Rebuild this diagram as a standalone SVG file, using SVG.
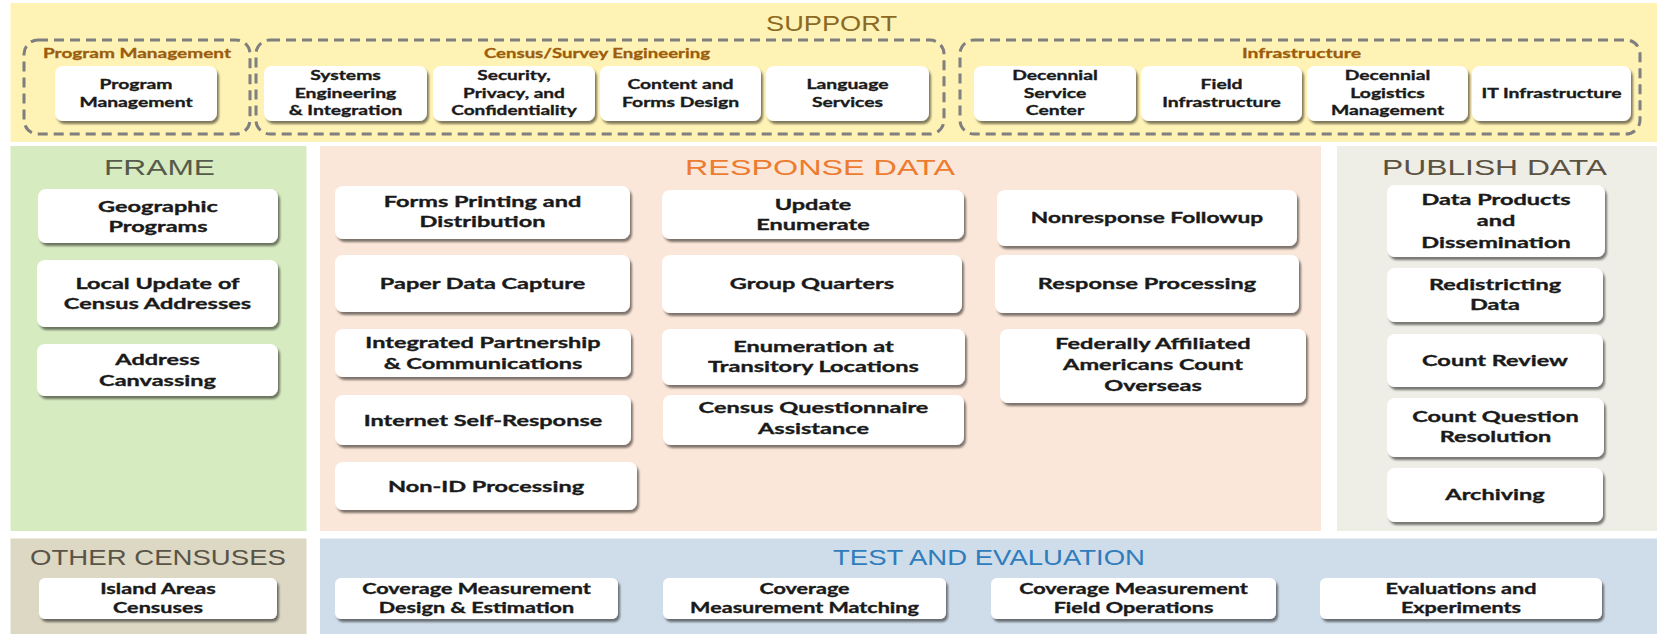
<svg xmlns="http://www.w3.org/2000/svg" width="1657" height="634" viewBox="0 0 1657 634">
  <style>
    .panel-title { font-family: "Liberation Sans", Arial, sans-serif; font-size: 22px; text-anchor: start; }
    .grp-title { font-family: Lato, "Liberation Sans", sans-serif; font-weight: 700; font-size: 13.5px; fill: #9b5c0c; stroke: #9b5c0c; stroke-width: 0.3; }
    .box { fill: #ffffff; filter: url(#sh); }
    .dash { fill: none; stroke: #7f7f7f; stroke-width: 3; stroke-dasharray: 10 6; }
    .lbl { font-family: Lato, "Liberation Sans", sans-serif; font-weight: 700; fill: #1a1a1a; stroke: #1a1a1a; stroke-width: 0.35; text-anchor: middle; }
    .s14 { font-size: 14px; }
    .s15 { font-size: 15px; }
    .s16 { font-size: 16px; }
  </style>
  <defs>
    <filter id="sh" x="-5%" y="-10%" width="112%" height="130%">
      <feDropShadow dx="2" dy="3" stdDeviation="1.3" flood-color="#000" flood-opacity="0.5"/>
    </filter>
  </defs>

  <!-- background bands -->
  <rect width="1657" height="634" fill="#ffffff"/>
  <rect x="10.5" y="3" width="1646.5" height="139" fill="#fff2b5"/>
  <rect x="10.5" y="146" width="296" height="385" fill="#d7ebc1"/>
  <rect x="320" y="146" width="1001" height="385" fill="#fbe7d9"/>
  <rect x="1337" y="146" width="320" height="385" fill="#eeeee6"/>
  <rect x="10.5" y="538.5" width="296" height="95.5" fill="#dcd8c4"/>
  <rect x="320" y="538.5" width="1337" height="95.5" fill="#cfdce9"/>

  <!-- band titles -->
  <text class="panel-title" x="766" y="31" textLength="131" lengthAdjust="spacingAndGlyphs" fill="#8b6b23">SUPPORT</text>
  <text class="panel-title" x="104" y="175" font-size="21" textLength="111" lengthAdjust="spacingAndGlyphs" fill="#565a4a">FRAME</text>
  <text class="panel-title" x="685" y="175" textLength="270" lengthAdjust="spacingAndGlyphs" fill="#ec7c30">RESPONSE DATA</text>
  <text class="panel-title" x="1382" y="175" textLength="225" lengthAdjust="spacingAndGlyphs" fill="#5b5242">PUBLISH DATA</text>
  <text class="panel-title" x="30" y="565" font-size="21" textLength="256" lengthAdjust="spacingAndGlyphs" fill="#5a5448">OTHER CENSUSES</text>
  <text class="panel-title" x="833" y="565" font-size="19" textLength="312" lengthAdjust="spacingAndGlyphs" fill="#2f7dbc">TEST AND EVALUATION</text>

  <!-- support groupings -->
  <g id="grp-program-management">
    <rect class="dash" x="24" y="40" width="226" height="94" rx="14"/>
    <text class="grp-title" x="43" y="58" textLength="188" lengthAdjust="spacingAndGlyphs">Program Management</text>
  </g>
  <g id="grp-census-survey-engineering">
    <rect class="dash" x="256" y="40" width="688" height="94" rx="14"/>
    <text class="grp-title" x="484" y="58" textLength="226" lengthAdjust="spacingAndGlyphs">Census/Survey Engineering</text>
  </g>
  <g id="grp-infrastructure">
    <rect class="dash" x="960" y="40" width="680" height="94" rx="14"/>
    <text class="grp-title" x="1242" y="58" textLength="119" lengthAdjust="spacingAndGlyphs">Infrastructure</text>
  </g>

  <!-- support nodes -->
  <g id="n-program-management">
    <rect class="box" x="55" y="66" width="162" height="55" rx="8"/>
    <text class="lbl s14" transform="translate(136 0) scale(1.38 1)"><tspan x="0" y="89.5">Program</tspan><tspan x="0" y="107">Management</tspan></text>
  </g>
  <g id="n-systems-engineering">
    <rect class="box" x="264" y="66" width="163" height="55" rx="8"/>
    <text class="lbl s14" transform="translate(345.5 0) scale(1.38 1)"><tspan x="0" y="80.5">Systems</tspan><tspan x="0" y="98">Engineering</tspan><tspan x="0" y="115.5">&amp; Integration</tspan></text>
  </g>
  <g id="n-security-privacy">
    <rect class="box" x="433" y="66" width="162" height="55" rx="8"/>
    <text class="lbl s14" transform="translate(514 0) scale(1.36 1)"><tspan x="0" y="80.5">Security,</tspan><tspan x="0" y="98">Privacy, and</tspan><tspan x="0" y="115.5">Confidentiality</tspan></text>
  </g>
  <g id="n-content-forms">
    <rect class="box" x="600" y="66" width="161" height="55" rx="8"/>
    <text class="lbl s14" transform="translate(680.5 0) scale(1.38 1)"><tspan x="0" y="89.5">Content and</tspan><tspan x="0" y="107">Forms Design</tspan></text>
  </g>
  <g id="n-language-services">
    <rect class="box" x="766" y="66" width="163" height="55" rx="8"/>
    <text class="lbl s14" transform="translate(847.5 0) scale(1.38 1)"><tspan x="0" y="89.5">Language</tspan><tspan x="0" y="107">Services</tspan></text>
  </g>
  <g id="n-decennial-service-center">
    <rect class="box" x="974" y="66" width="162" height="55" rx="8"/>
    <text class="lbl s14" transform="translate(1055 0) scale(1.38 1)"><tspan x="0" y="80.5">Decennial</tspan><tspan x="0" y="98">Service</tspan><tspan x="0" y="115.5">Center</tspan></text>
  </g>
  <g id="n-field-infrastructure">
    <rect class="box" x="1141" y="66" width="161" height="55" rx="8"/>
    <text class="lbl s14" transform="translate(1221.5 0) scale(1.38 1)"><tspan x="0" y="89.5">Field</tspan><tspan x="0" y="107">Infrastructure</tspan></text>
  </g>
  <g id="n-logistics">
    <rect class="box" x="1307" y="66" width="161" height="55" rx="8"/>
    <text class="lbl s14" transform="translate(1387.5 0) scale(1.38 1)"><tspan x="0" y="80.5">Decennial</tspan><tspan x="0" y="98">Logistics</tspan><tspan x="0" y="115.5">Management</tspan></text>
  </g>
  <g id="n-it-infrastructure">
    <rect class="box" x="1472" y="66" width="159" height="55" rx="8"/>
    <text class="lbl s14" transform="translate(1551.5 0) scale(1.38 1)"><tspan x="0" y="98.5">IT Infrastructure</tspan></text>
  </g>

  <!-- frame nodes -->
  <g id="n-geographic-programs">
    <rect class="box" x="38" y="189" width="240" height="54" rx="8"/>
    <text class="lbl s16" transform="translate(158 0) scale(1.47 1)"><tspan x="0" y="212">Geographic</tspan><tspan x="0" y="232.5">Programs</tspan></text>
  </g>
  <g id="n-luca">
    <rect class="box" x="37" y="260" width="241" height="67" rx="8"/>
    <text class="lbl s16" transform="translate(157.5 0) scale(1.47 1)"><tspan x="0" y="289">Local Update of</tspan><tspan x="0" y="309.5">Census Addresses</tspan></text>
  </g>
  <g id="n-address-canvassing">
    <rect class="box" x="37" y="344" width="241" height="52" rx="8"/>
    <text class="lbl s16" transform="translate(157.5 0) scale(1.47 1)"><tspan x="0" y="365.5">Address</tspan><tspan x="0" y="386">Canvassing</tspan></text>
  </g>

  <!-- response data nodes -->
  <g id="n-forms-printing">
    <rect class="box" x="335" y="186" width="295" height="53" rx="8"/>
    <text class="lbl s16" transform="translate(482.5 0) scale(1.47 1)"><tspan x="0" y="207">Forms Printing and</tspan><tspan x="0" y="227.5">Distribution</tspan></text>
  </g>
  <g id="n-paper-data-capture">
    <rect class="box" x="335" y="255" width="295" height="57" rx="8"/>
    <text class="lbl s16" transform="translate(482.5 0) scale(1.47 1)"><tspan x="0" y="289">Paper Data Capture</tspan></text>
  </g>
  <g id="n-partnership">
    <rect class="box" x="335" y="329" width="296" height="48" rx="8"/>
    <text class="lbl s16" transform="translate(483 0) scale(1.47 1)"><tspan x="0" y="348.5">Integrated Partnership</tspan><tspan x="0" y="369">&amp; Communications</tspan></text>
  </g>
  <g id="n-internet-self-response">
    <rect class="box" x="335" y="395" width="296" height="50" rx="8"/>
    <text class="lbl s16" transform="translate(483 0) scale(1.47 1)"><tspan x="0" y="426">Internet Self-Response</tspan></text>
  </g>
  <g id="n-non-id">
    <rect class="box" x="335" y="462" width="302" height="48" rx="8"/>
    <text class="lbl s16" transform="translate(486 0) scale(1.47 1)"><tspan x="0" y="492">Non-ID Processing</tspan></text>
  </g>
  <g id="n-update-enumerate">
    <rect class="box" x="662" y="190" width="302" height="49" rx="8"/>
    <text class="lbl s16" transform="translate(813 0) scale(1.47 1)"><tspan x="0" y="210">Update</tspan><tspan x="0" y="230.5">Enumerate</tspan></text>
  </g>
  <g id="n-group-quarters">
    <rect class="box" x="662" y="255" width="300" height="58" rx="8"/>
    <text class="lbl s16" transform="translate(812 0) scale(1.47 1)"><tspan x="0" y="289.5">Group Quarters</tspan></text>
  </g>
  <g id="n-transitory">
    <rect class="box" x="662" y="329" width="303" height="56" rx="8"/>
    <text class="lbl s16" transform="translate(813.5 0) scale(1.47 1)"><tspan x="0" y="352">Enumeration at</tspan><tspan x="0" y="372.5">Transitory Locations</tspan></text>
  </g>
  <g id="n-questionnaire-assistance">
    <rect class="box" x="663" y="395" width="301" height="50" rx="8"/>
    <text class="lbl s16" transform="translate(813.5 0) scale(1.47 1)"><tspan x="0" y="413.5">Census Questionnaire</tspan><tspan x="0" y="434.5">Assistance</tspan></text>
  </g>
  <g id="n-nonresponse-followup">
    <rect class="box" x="997" y="190" width="300" height="56" rx="8"/>
    <text class="lbl s16" transform="translate(1147 0) scale(1.42 1)"><tspan x="0" y="223">Nonresponse Followup</tspan></text>
  </g>
  <g id="n-response-processing">
    <rect class="box" x="995" y="255" width="304" height="58" rx="8"/>
    <text class="lbl s16" transform="translate(1147 0) scale(1.47 1)"><tspan x="0" y="289.5">Response Processing</tspan></text>
  </g>
  <g id="n-faaco">
    <rect class="box" x="1000" y="329" width="306" height="74" rx="8"/>
    <text class="lbl s16" transform="translate(1153 0) scale(1.47 1)"><tspan x="0" y="349">Federally Affiliated</tspan><tspan x="0" y="370">Americans Count</tspan><tspan x="0" y="391">Overseas</tspan></text>
  </g>

  <!-- publish data nodes -->
  <g id="n-data-products">
    <rect class="box" x="1387" y="185" width="218" height="72" rx="8"/>
    <text class="lbl s16" transform="translate(1496 0) scale(1.47 1)"><tspan x="0" y="205">Data Products</tspan><tspan x="0" y="226.5">and</tspan><tspan x="0" y="248">Dissemination</tspan></text>
  </g>
  <g id="n-redistricting">
    <rect class="box" x="1387" y="268" width="216" height="54" rx="8"/>
    <text class="lbl s16" transform="translate(1495 0) scale(1.47 1)"><tspan x="0" y="290">Redistricting</tspan><tspan x="0" y="310.5">Data</tspan></text>
  </g>
  <g id="n-count-review">
    <rect class="box" x="1387" y="334" width="216" height="53" rx="8"/>
    <text class="lbl s16" transform="translate(1495 0) scale(1.47 1)"><tspan x="0" y="366">Count Review</tspan></text>
  </g>
  <g id="n-cqr">
    <rect class="box" x="1387" y="398" width="217" height="59" rx="8"/>
    <text class="lbl s16" transform="translate(1495.5 0) scale(1.47 1)"><tspan x="0" y="422">Count Question</tspan><tspan x="0" y="442.5">Resolution</tspan></text>
  </g>
  <g id="n-archiving">
    <rect class="box" x="1387" y="468" width="216" height="54" rx="8"/>
    <text class="lbl s16" transform="translate(1495 0) scale(1.47 1)"><tspan x="0" y="500.5">Archiving</tspan></text>
  </g>

  <!-- other censuses -->
  <g id="n-island-areas">
    <rect class="box" x="39" y="578" width="238" height="41" rx="6"/>
    <text class="lbl s15" transform="translate(158 0) scale(1.44 1)"><tspan x="0" y="594.5">Island Areas</tspan><tspan x="0" y="613.5">Censuses</tspan></text>
  </g>

  <!-- test and evaluation -->
  <g id="n-cm-design">
    <rect class="box" x="335" y="578" width="283" height="41" rx="6"/>
    <text class="lbl s15" transform="translate(476.5 0) scale(1.44 1)"><tspan x="0" y="594.5">Coverage Measurement</tspan><tspan x="0" y="613.5">Design &amp; Estimation</tspan></text>
  </g>
  <g id="n-cm-matching">
    <rect class="box" x="663" y="578" width="283" height="41" rx="6"/>
    <text class="lbl s15" transform="translate(804.5 0) scale(1.44 1)"><tspan x="0" y="594.5">Coverage</tspan><tspan x="0" y="613.5">Measurement Matching</tspan></text>
  </g>
  <g id="n-cm-field">
    <rect class="box" x="991" y="578" width="285" height="41" rx="6"/>
    <text class="lbl s15" transform="translate(1133.5 0) scale(1.44 1)"><tspan x="0" y="594.5">Coverage Measurement</tspan><tspan x="0" y="613.5">Field Operations</tspan></text>
  </g>
  <g id="n-evaluations">
    <rect class="box" x="1320" y="578" width="282" height="41" rx="6"/>
    <text class="lbl s15" transform="translate(1461 0) scale(1.44 1)"><tspan x="0" y="594.5">Evaluations and</tspan><tspan x="0" y="613.5">Experiments</tspan></text>
  </g>

  <!-- no connectors in this layout -->
  <g id="connectors"/>
</svg>
